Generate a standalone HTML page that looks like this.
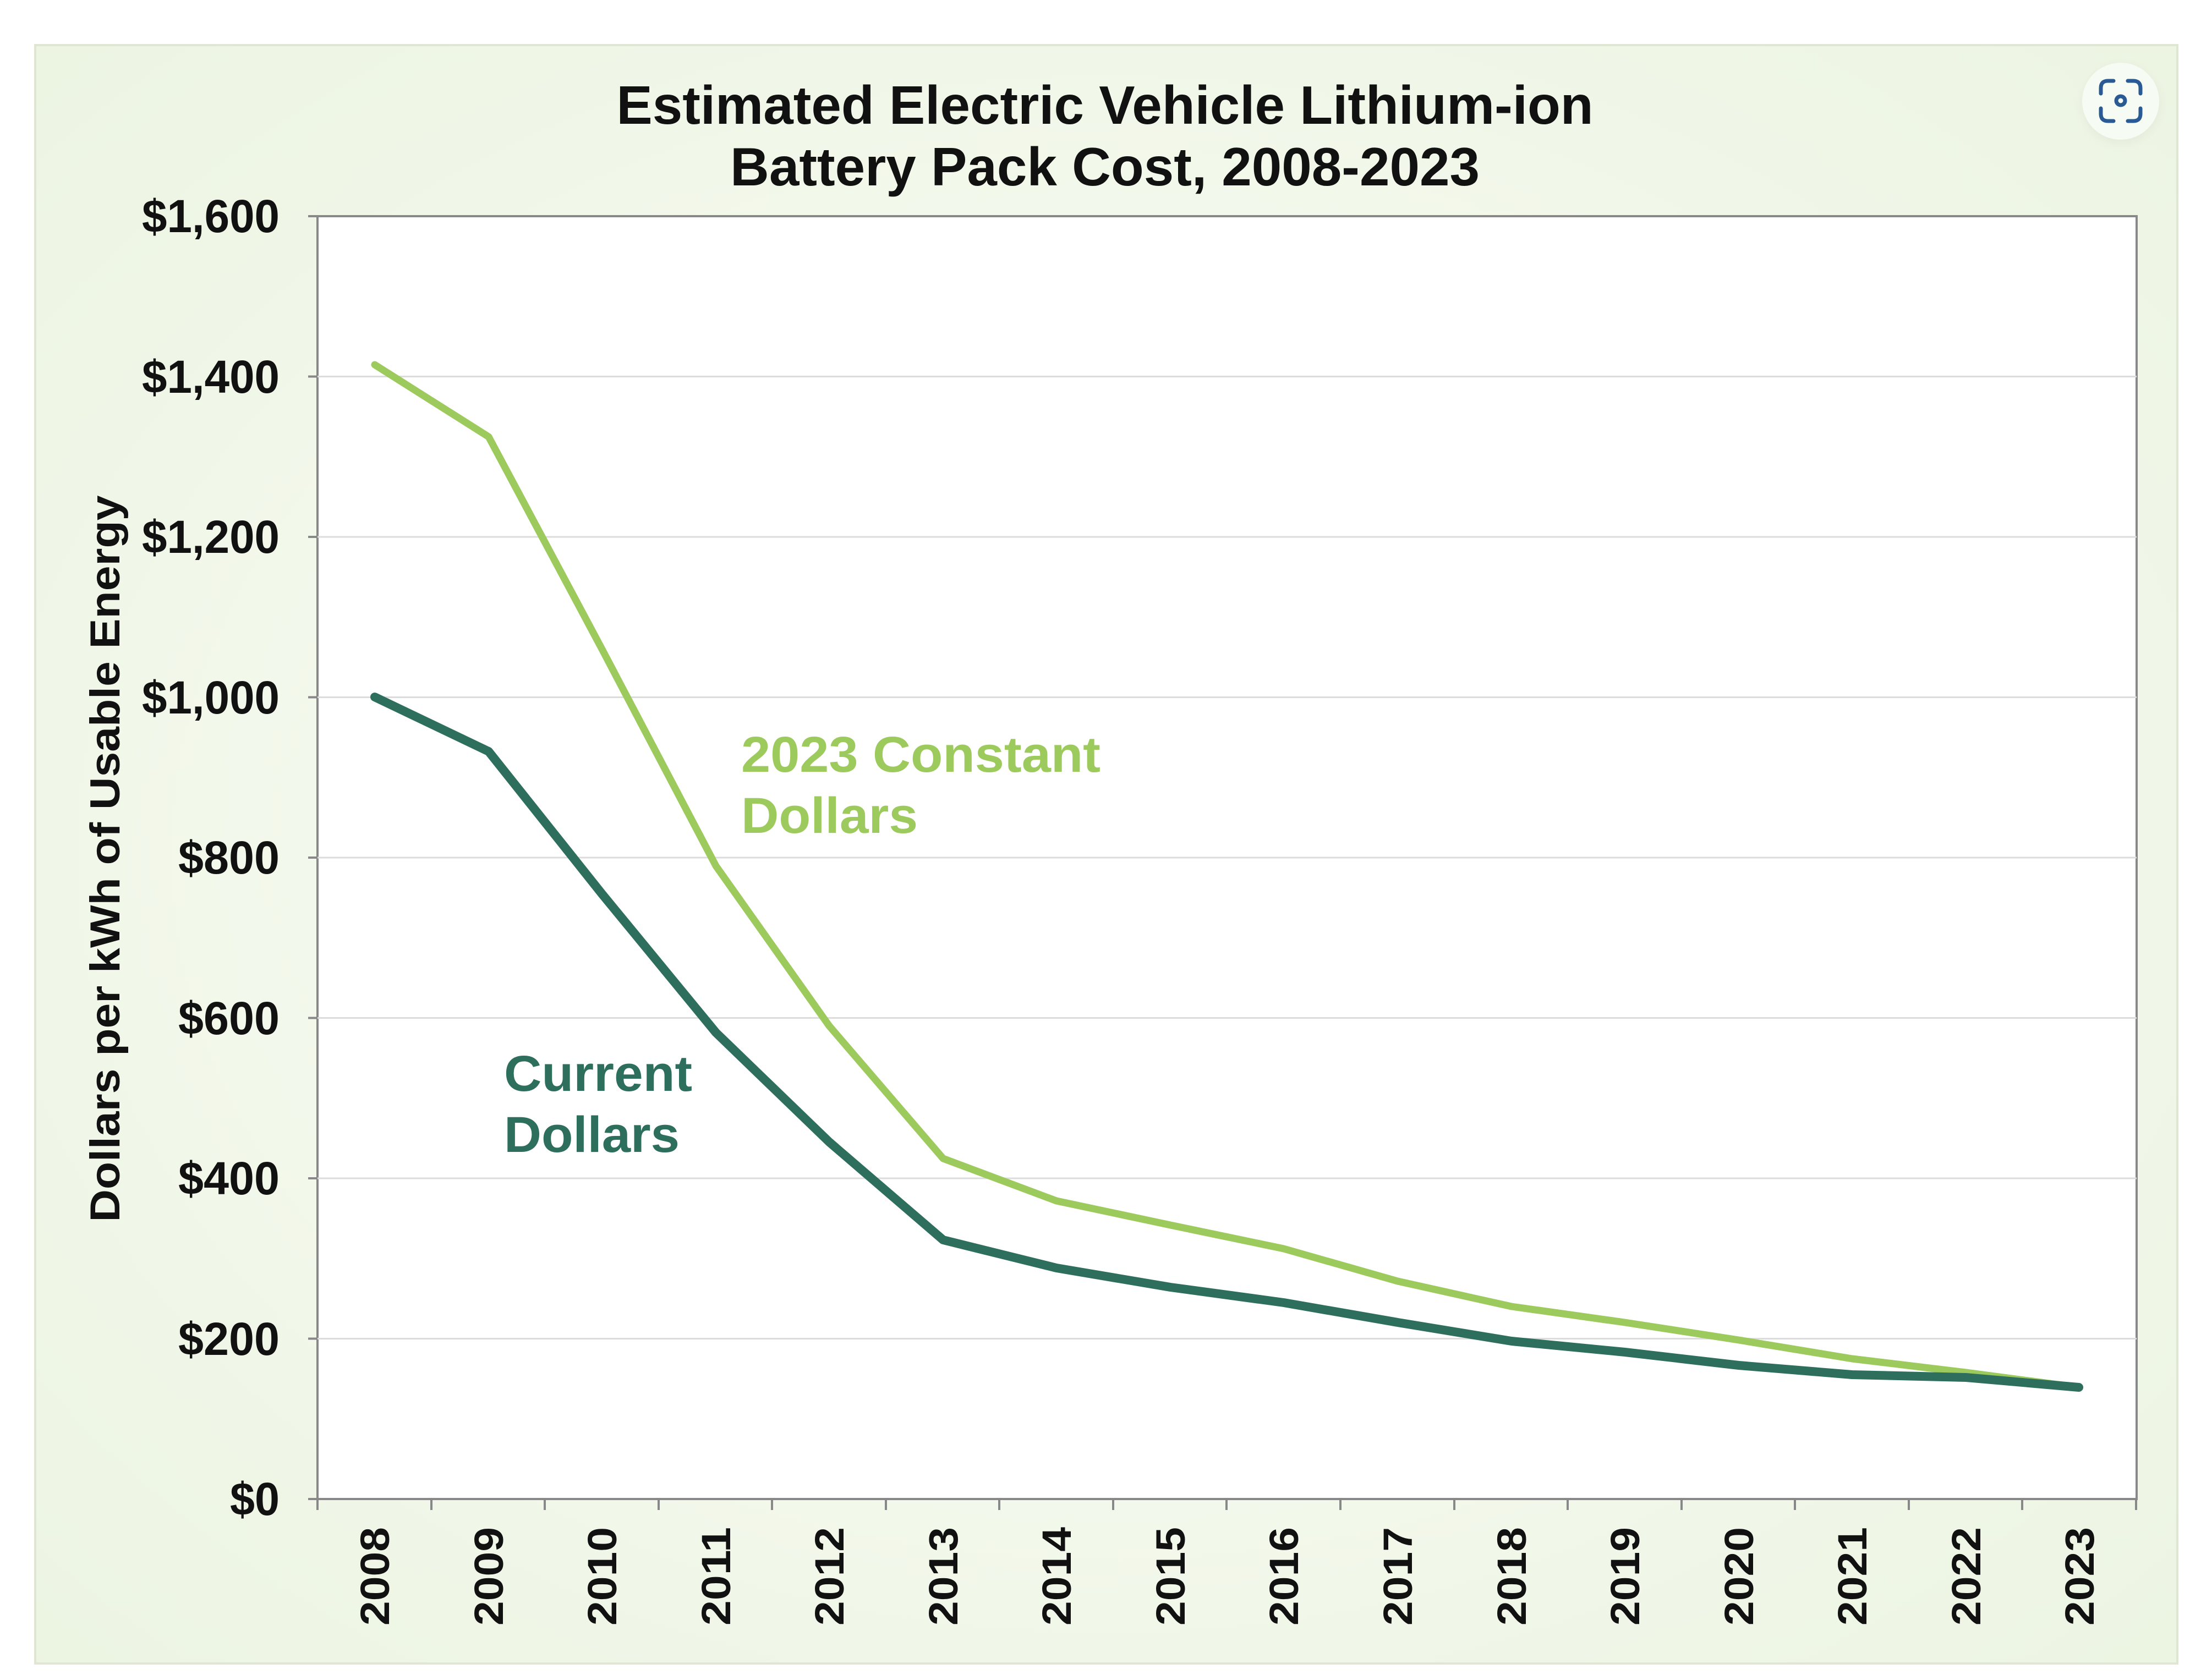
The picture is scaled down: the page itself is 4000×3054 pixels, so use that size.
<!DOCTYPE html>
<html><head><meta charset="utf-8"><style>
html,body{margin:0;padding:0;background:#fff;}
svg{display:block;font-family:"Liberation Sans",Arial,sans-serif;}
</style></head><body>
<svg width="4000" height="3054" viewBox="0 0 4000 3054" xmlns="http://www.w3.org/2000/svg">
<defs>
<radialGradient id="bg" cx="50%" cy="50%" r="70%">
<stop offset="0" stop-color="#fbfdf7"/><stop offset="1" stop-color="#ecf4e2"/>
</radialGradient>
<filter id="sh"><feGaussianBlur stdDeviation="8"/></filter>
</defs>
<rect x="0" y="0" width="4000" height="3054" fill="#fff"/>
<rect x="64" y="82" width="3893" height="2942" fill="url(#bg)" stroke="#dfe6d4" stroke-width="4"/>
<rect x="577" y="393" width="3306" height="2332" fill="#fff" stroke="#888" stroke-width="4"/>
<g stroke="#dcdcdc" stroke-width="3">
<line x1="577" x2="3883" y1="684.5" y2="684.5"/>
<line x1="577" x2="3883" y1="976" y2="976"/>
<line x1="577" x2="3883" y1="1267.5" y2="1267.5"/>
<line x1="577" x2="3883" y1="1559" y2="1559"/>
<line x1="577" x2="3883" y1="1850.5" y2="1850.5"/>
<line x1="577" x2="3883" y1="2142" y2="2142"/>
<line x1="577" x2="3883" y1="2433.5" y2="2433.5"/>
</g>
<g stroke="#888" stroke-width="4">
<line x1="560" x2="577" y1="393" y2="393"/><line x1="560" x2="577" y1="684.5" y2="684.5"/><line x1="560" x2="577" y1="976" y2="976"/><line x1="560" x2="577" y1="1267.5" y2="1267.5"/><line x1="560" x2="577" y1="1559" y2="1559"/><line x1="560" x2="577" y1="1850.5" y2="1850.5"/><line x1="560" x2="577" y1="2142" y2="2142"/><line x1="560" x2="577" y1="2433.5" y2="2433.5"/><line x1="560" x2="577" y1="2725" y2="2725"/>
<line x1="577" x2="577" y1="2725" y2="2745"/><line x1="784" x2="784" y1="2725" y2="2745"/><line x1="990" x2="990" y1="2725" y2="2745"/><line x1="1197" x2="1197" y1="2725" y2="2745"/><line x1="1403" x2="1403" y1="2725" y2="2745"/><line x1="1610" x2="1610" y1="2725" y2="2745"/><line x1="1816" x2="1816" y1="2725" y2="2745"/><line x1="2023" x2="2023" y1="2725" y2="2745"/><line x1="2229" x2="2229" y1="2725" y2="2745"/><line x1="2436" x2="2436" y1="2725" y2="2745"/><line x1="2643" x2="2643" y1="2725" y2="2745"/><line x1="2849" x2="2849" y1="2725" y2="2745"/><line x1="3056" x2="3056" y1="2725" y2="2745"/><line x1="3262" x2="3262" y1="2725" y2="2745"/><line x1="3469" x2="3469" y1="2725" y2="2745"/><line x1="3675" x2="3675" y1="2725" y2="2745"/><line x1="3882" x2="3882" y1="2725" y2="2745"/>
</g>
<g font-size="98" font-weight="bold" text-anchor="middle" fill="#111">
<text x="2008" y="225">Estimated Electric Vehicle Lithium-ion</text>
<text x="2008" y="337">Battery Pack Cost, 2008-2023</text>
</g>
<g font-size="84" font-weight="bold" text-anchor="end" fill="#111" lengthAdjust="spacingAndGlyphs">
<text x="508" y="422" textLength="250" lengthAdjust="spacingAndGlyphs">$1,600</text>
<text x="508" y="714" textLength="250" lengthAdjust="spacingAndGlyphs">$1,400</text>
<text x="508" y="1005" textLength="250" lengthAdjust="spacingAndGlyphs">$1,200</text>
<text x="508" y="1297" textLength="250" lengthAdjust="spacingAndGlyphs">$1,000</text>
<text x="508" y="1588" textLength="184" lengthAdjust="spacingAndGlyphs">$800</text>
<text x="508" y="1880" textLength="184" lengthAdjust="spacingAndGlyphs">$600</text>
<text x="508" y="2171" textLength="184" lengthAdjust="spacingAndGlyphs">$400</text>
<text x="508" y="2463" textLength="184" lengthAdjust="spacingAndGlyphs">$200</text>
<text x="508" y="2754" textLength="90" lengthAdjust="spacingAndGlyphs">$0</text>
</g>
<text transform="translate(217,1561) rotate(-90)" font-size="76" font-weight="bold" text-anchor="middle" fill="#111" textLength="1321" lengthAdjust="spacingAndGlyphs">Dollars per kWh of Usable Energy</text>
<g font-size="74" font-weight="bold" text-anchor="end" fill="#111">
<text transform="translate(707,2776) rotate(-90)" textLength="179" lengthAdjust="spacingAndGlyphs">2008</text><text transform="translate(914,2776) rotate(-90)" textLength="179" lengthAdjust="spacingAndGlyphs">2009</text><text transform="translate(1120,2776) rotate(-90)" textLength="179" lengthAdjust="spacingAndGlyphs">2010</text><text transform="translate(1327,2776) rotate(-90)" textLength="179" lengthAdjust="spacingAndGlyphs">2011</text><text transform="translate(1533,2776) rotate(-90)" textLength="179" lengthAdjust="spacingAndGlyphs">2012</text><text transform="translate(1740,2776) rotate(-90)" textLength="179" lengthAdjust="spacingAndGlyphs">2013</text><text transform="translate(1946,2776) rotate(-90)" textLength="179" lengthAdjust="spacingAndGlyphs">2014</text><text transform="translate(2153,2776) rotate(-90)" textLength="179" lengthAdjust="spacingAndGlyphs">2015</text><text transform="translate(2359,2776) rotate(-90)" textLength="179" lengthAdjust="spacingAndGlyphs">2016</text><text transform="translate(2566,2776) rotate(-90)" textLength="179" lengthAdjust="spacingAndGlyphs">2017</text><text transform="translate(2773,2776) rotate(-90)" textLength="179" lengthAdjust="spacingAndGlyphs">2018</text><text transform="translate(2979,2776) rotate(-90)" textLength="179" lengthAdjust="spacingAndGlyphs">2019</text><text transform="translate(3186,2776) rotate(-90)" textLength="179" lengthAdjust="spacingAndGlyphs">2020</text><text transform="translate(3392,2776) rotate(-90)" textLength="179" lengthAdjust="spacingAndGlyphs">2021</text><text transform="translate(3599,2776) rotate(-90)" textLength="179" lengthAdjust="spacingAndGlyphs">2022</text><text transform="translate(3805,2776) rotate(-90)" textLength="179" lengthAdjust="spacingAndGlyphs">2023</text>
</g>
<polyline fill="none" stroke="#9dca5c" stroke-width="13" stroke-linejoin="round" stroke-linecap="round"
points="681,663 888,794 1094,1180 1301,1574 1507,1865 1714,2106 1920,2183 2127,2227 2333,2270 2540,2329 2747,2375 2953,2404 3160,2436 3366,2470 3573,2495 3778,2522"/>
<polyline fill="none" stroke="#2d6f5c" stroke-width="16" stroke-linejoin="round" stroke-linecap="round"
points="681,1267 888,1366 1094,1625 1301,1877 1507,2076 1714,2254 1920,2305 2127,2340 2333,2368 2540,2404 2747,2438 2953,2458 3160,2482 3366,2499 3573,2504 3778,2522"/>
<g font-size="92" font-weight="bold" fill="#9dca5c">
<text x="1347" y="1403" textLength="653" lengthAdjust="spacingAndGlyphs">2023 Constant</text><text x="1347" y="1514" textLength="321" lengthAdjust="spacingAndGlyphs">Dollars</text>
</g>
<g font-size="92" font-weight="bold" fill="#2d6f5c">
<text x="916" y="1983" textLength="342" lengthAdjust="spacingAndGlyphs">Current</text><text x="916" y="2094" textLength="319" lengthAdjust="spacingAndGlyphs">Dollars</text>
</g>
<circle cx="3855" cy="190" r="72" fill="#e6ecdc" filter="url(#sh)"/>
<circle cx="3854" cy="184" r="70" fill="#f6fbf3"/>
<g fill="none" stroke="#2a5a94" stroke-width="7" stroke-linecap="round">
<path d="M3818,170 v-10 q0,-13 13,-13 h10"/><path d="M3867,147 h10 q13,0 13,13 v10"/>
<path d="M3818,197 v10 q0,13 13,13 h10"/><path d="M3867,220 h10 q13,0 13,-13 v-10"/>
<circle cx="3854" cy="183" r="8"/>
</g>
</svg>
</body></html>
